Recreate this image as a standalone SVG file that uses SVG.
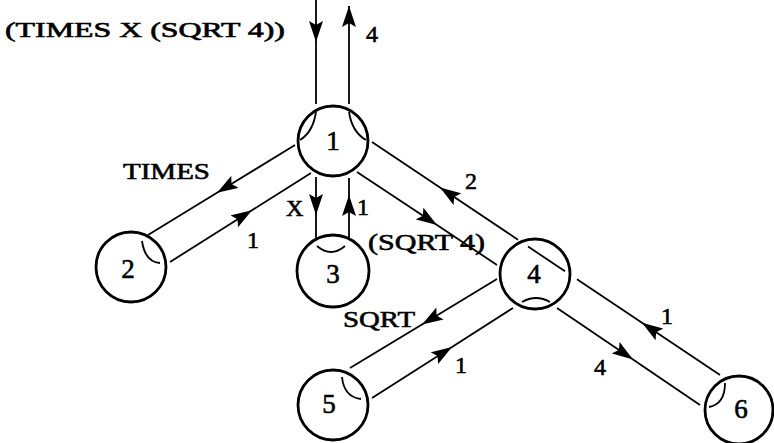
<svg xmlns="http://www.w3.org/2000/svg" width="774" height="443" viewBox="0 0 774 443">
  <style>
    .node circle { fill: none; stroke: #000; stroke-width: 2.8; }
    .port { fill: none; stroke: #000; stroke-width: 1.8; }
    text { font-family: "Liberation Serif", "Times New Roman", serif; fill: #000; stroke: #000; stroke-width: 0.6; }
    .num { font-size: 27px; text-anchor: middle; }
    .lbl { font-size: 24px; }
    .word { font-size: 24px; }
    .title { font-size: 21px; }
    .edge { fill: none; stroke: #000; stroke-width: 1.8; }
    .flow { marker-mid: url(#ah); }
  </style>
  <defs>
    <marker id="ah" viewBox="0 0 22 14" refX="21" refY="7" markerWidth="22" markerHeight="14" markerUnits="userSpaceOnUse" orient="auto">
      <path d="M0,0 L21,7 L0,14 L4,7 Z" fill="#000"/>
    </marker>
    <marker id="ahEnd" viewBox="0 0 22 14" refX="21" refY="7" markerWidth="22" markerHeight="14" markerUnits="userSpaceOnUse" orient="auto">
      <path d="M0,0 L21,7 L0,14 L4,7 Z" fill="#000"/>
    </marker>
  </defs>

  <!-- top-level expression -->
  <text class="title" x="5" y="37" textLength="280" lengthAdjust="spacingAndGlyphs">(TIMES X (SQRT 4))</text>

  <g id="connectors">
    <!-- expression into node 1, result out -->
    <path class="edge flow" d="M316,0 L316,42 L316,104"/>
    <path class="edge" d="M349,104 L349,6" marker-end="url(#ahEnd)"/>
    <!-- 1 <-> 2 -->
    <path class="edge flow" d="M295,145 L217,192.8 L148,235"/>
    <path class="edge flow" d="M170,262 L252,210.2 L311,173"/>
    <!-- 1 <-> 3 -->
    <path class="edge flow" d="M316,177 L316,215 L316,240"/>
    <path class="edge flow" d="M349,240 L349,195 L349,178"/>
    <!-- 1 -> 4 -->
    <path class="edge flow" d="M357,172 L437,225.1 L497,265"/>
    <!-- 6 -> 4 -> 1 return line, passing through node 4 -->
    <path class="edge flow" d="M720,375 L642,322.8 L577,279.3"/>
    <path class="edge" d="M565,271.3 L528,246.5"/>
    <path class="edge flow" d="M518,239.7 L440,187.5 L372,142"/>
    <!-- 4 <-> 5 -->
    <path class="edge flow" d="M497,279 L422,324.4 L350,368"/>
    <path class="edge flow" d="M372,398 L452,346.9 L513,308"/>
    <!-- 4 -> 6 -->
    <path class="edge flow" d="M557,308 L633,359.5 L700,405"/>
  </g>

  <g id="edge-labels">
    <text class="lbl" x="366" y="42">4</text>
    <text class="word" x="123" y="179" textLength="87" lengthAdjust="spacingAndGlyphs">TIMES</text>
    <text class="lbl" x="247" y="248">1</text>
    <text class="lbl" x="286" y="216">X</text>
    <text class="lbl" x="357" y="215">1</text>
    <text class="lbl" x="465" y="189">2</text>
    <text class="word" x="368" y="250" textLength="117" lengthAdjust="spacingAndGlyphs">(SQRT 4)</text>
    <text class="word" x="343" y="327" textLength="72" lengthAdjust="spacingAndGlyphs">SQRT</text>
    <text class="lbl" x="455" y="373">1</text>
    <text class="lbl" x="594" y="375">4</text>
    <text class="lbl" x="661" y="324">1</text>
  </g>

  <g id="node1" class="node">
    <circle cx="333" cy="141" r="35"/>
    <path class="port" d="M316,112 Q313,132 300,140"/>
    <path class="port" d="M349,112 Q352,132 366,140"/>
    <text class="num" x="333" y="150">1</text>
  </g>
  <g id="node2" class="node">
    <circle cx="131" cy="267" r="35"/>
    <path class="port" d="M142,241 Q145,262 160,263"/>
    <text class="num" x="128" y="278">2</text>
  </g>
  <g id="node3" class="node">
    <circle cx="333" cy="271" r="36"/>
    <path class="port" d="M317,246 Q331,258 345,246"/>
    <text class="num" x="333" y="283">3</text>
  </g>
  <g id="node4" class="node">
    <circle cx="535" cy="274" r="35"/>
    <path class="port" d="M522,302 Q536,294 550,302"/>
    <text class="num" x="534" y="283">4</text>
  </g>
  <g id="node5" class="node">
    <circle cx="333" cy="405" r="35"/>
    <path class="port" d="M342,377 Q344,397 361,399"/>
    <text class="num" x="329" y="413">5</text>
  </g>
  <g id="node6" class="node">
    <circle cx="739" cy="410" r="34"/>
    <path class="port" d="M725,383 Q725,404 709,407"/>
    <text class="num" x="741" y="418">6</text>
  </g>
</svg>
